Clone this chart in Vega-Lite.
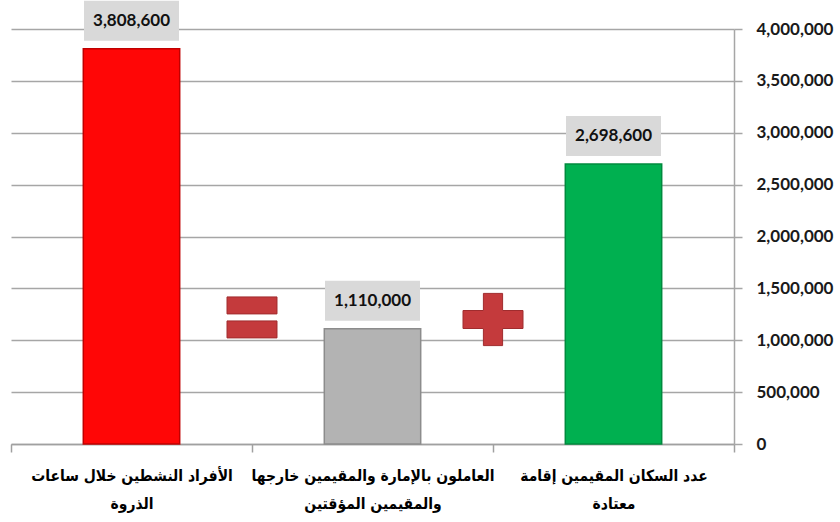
{
  "$schema": "https://vega.github.io/schema/vega-lite/v6.json",
  "autosize": "none",
  "width": 723,
  "height": 415,
  "padding": {"left": 11, "top": 29, "right": 106, "bottom": 78},
  "background": "white",
  "config": {"view": {"stroke": null}},
  "datasets": {
    "bars": [
      {"cat": "الأفراد النشطين خلال ساعات|الذروة", "value": 3808600, "label": "3,808,600"},
      {"cat": "العاملون بالإمارة والمقيمين خارجها|والمقيمين المؤقتين", "value": 1110000, "label": "1,110,000"},
      {"cat": "عدد السكان المقيمين إقامة|معتادة", "value": 2698600, "label": "2,698,600"}
    ],
    "signs": [
      {"cat": "الأفراد النشطين خلال ساعات|الذروة", "sign": "=", "value": 1220000},
      {"cat": "العاملون بالإمارة والمقيمين خارجها|والمقيمين المؤقتين", "sign": "+", "value": 1200000}
    ]
  },
  "encoding": {
    "x": {
      "field": "cat",
      "type": "nominal",
      "sort": null,
      "scale": {"paddingInner": 0, "paddingOuter": 0},
      "axis": {
        "orient": "bottom",
        "title": null,
        "labelAngle": 0,
        "labelExpr": "split(datum.label, '|')",
        "labelFont": "DejaVu Sans Condensed, DejaVu Sans",
        "labelFontWeight": "bold",
        "labelFontSize": 15.5,
        "labelColor": "#000000",
        "labelLineHeight": 28,
        "labelPadding": 16,
        "labelLimit": 0,
        "domainColor": "#a0a0a0",
        "domainWidth": 1.5,
        "tickColor": "#a0a0a0",
        "tickWidth": 1.5,
        "tickSize": 8,
        "tickBand": "extent",
        "grid": false
      }
    },
    "y": {
      "field": "value",
      "type": "quantitative",
      "scale": {"domain": [0, 4000000], "nice": false},
      "axis": {
        "orient": "right",
        "title": null,
        "values": [0, 500000, 1000000, 1500000, 2000000, 2500000, 3000000, 3500000, 4000000],
        "format": ",.0f",
        "labelFont": "Lato",
        "labelFontWeight": "bold",
        "labelFontSize": 17,
        "labelColor": "#1a1a1a",
        "labelPadding": 14,
        "grid": true,
        "gridColor": "#a6a6a6",
        "gridWidth": 1.5,
        "domainColor": "#a6a6a6",
        "domainWidth": 1.5,
        "tickColor": "#a6a6a6",
        "tickWidth": 1.5,
        "tickSize": 8
      }
    }
  },
  "layer": [
    {
      "data": {"name": "bars"},
      "mark": {"type": "bar", "width": {"band": 0.4}, "strokeWidth": 1.5},
      "encoding": {
        "fill": {
          "field": "cat",
          "type": "nominal",
          "scale": {"range": ["#ff0606", "#b3b3b3", "#00b050"]},
          "legend": null
        },
        "stroke": {
          "field": "cat",
          "type": "nominal",
          "scale": {"range": ["#c00000", "#8c8c8c", "#008a3e"]},
          "legend": null
        }
      }
    },
    {
      "data": {"name": "bars"},
      "mark": {"type": "tick", "color": "#d9d9d9", "thickness": 40, "size": 95, "yOffset": -28, "opacity": 1}
    },
    {
      "data": {"name": "bars"},
      "mark": {"type": "text", "font": "Lato", "fontWeight": "bold", "fontSize": 17, "color": "#111111", "yOffset": -28, "baseline": "middle", "align": "center"},
      "encoding": {"text": {"field": "label"}}
    },
    {
      "data": {"name": "signs"},
      "mark": {"type": "point", "filled": true, "opacity": 1, "size": 3600, "fill": "#c43a3c", "stroke": "#a02c2e", "strokeWidth": 1},
      "encoding": {
        "x": {"field": "cat", "type": "nominal", "sort": null, "bandPosition": 1},
        "shape": {
          "field": "sign",
          "type": "nominal",
          "scale": {
            "domain": ["=", "+"],
            "range": [
              "M-0.833,-0.683H0.833V-0.117H-0.833Z M-0.833,0.117H0.833V0.683H-0.833Z",
              "M-0.32,-0.87H0.32V-0.3H1V0.3H0.32V0.87H-0.32V0.3H-1V-0.3H-0.32Z"
            ]
          },
          "legend": null
        }
      }
    }
  ]
}
